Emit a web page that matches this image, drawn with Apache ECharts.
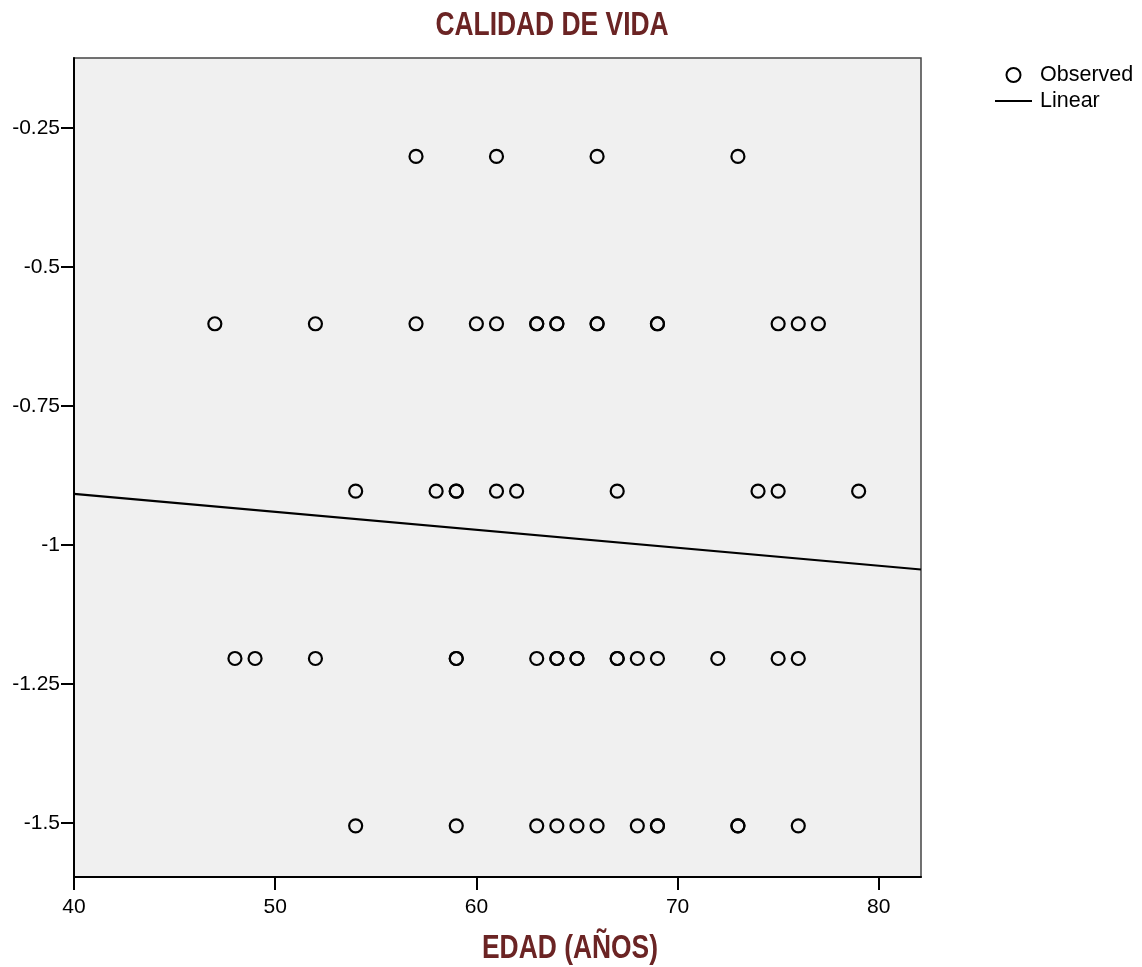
<!DOCTYPE html>
<html><head><meta charset="utf-8">
<script src="https://cdn.jsdelivr.net/npm/echarts@6/dist/echarts.min.js"></script>
<style>html,body{margin:0;padding:0;background:#fff}#c{width:1142px;height:967px}</style>
</head><body><div id="c"></div>
<script>
// Observed points: age (x) and value (y)
const obsAge = [
  57,61,66,73,
  47,52,57,60,61,63,63,64,64,66,66,69,69,75,76,77,
  54,58,59,59,61,62,67,74,75,79,
  48,49,52,59,59,63,64,64,65,65,67,67,68,69,72,75,76,
  54,59,63,64,65,66,68,69,69,73,73,76
];
const obsVal = [
  -0.301,-0.301,-0.301,-0.301,
  -0.602,-0.602,-0.602,-0.602,-0.602,-0.602,-0.602,-0.602,-0.602,-0.602,-0.602,-0.602,-0.602,-0.602,-0.602,-0.602,
  -0.903,-0.903,-0.903,-0.903,-0.903,-0.903,-0.903,-0.903,-0.903,-0.903,
  -1.204,-1.204,-1.204,-1.204,-1.204,-1.204,-1.204,-1.204,-1.204,-1.204,-1.204,-1.204,-1.204,-1.204,-1.204,-1.204,-1.204,
  -1.505,-1.505,-1.505,-1.505,-1.505,-1.505,-1.505,-1.505,-1.505,-1.505,-1.505,-1.505
];
// Linear fit endpoints
const fitAge = [40, 82.1];
const fitVal = [-0.908, -1.044];
// Axis ticks
const xTicks = [40, 50, 60, 70, 80];
const yTicks = [-1.5, -1.25, -1, -0.75, -0.5, -0.25];
const xRange = [40, 82.1];
const yRange = [-1.597, -0.124];

const titleText = 'CALIDAD DE VIDA';
const xName = 'EDAD (AÑOS)';
const sans = "'Liberation Sans',Arial,sans-serif";
const titleColor = '#6b2424';

const chart = echarts.init(document.getElementById('c'), null, {renderer: 'canvas'});
chart.setOption({
  animation: false,
  backgroundColor: '#ffffff',
  graphic: [
    {
      type: 'text', x: 552, y: 9, scaleX: 0.8, originX: 0,
      style: {text: titleText, fontFamily: sans, fontWeight: 'bold', fontSize: 33, fill: titleColor, textAlign: 'center', textVerticalAlign: 'top'}
    },
    {
      type: 'text', x: 570, y: 932, scaleX: 0.8, originX: 0,
      style: {text: xName, fontFamily: sans, fontWeight: 'bold', fontSize: 33, fill: titleColor, textAlign: 'center', textVerticalAlign: 'top'}
    }
  ],
  legend: {
    orient: 'vertical', left: 990, top: 59, itemGap: 4, itemWidth: 37, itemHeight: 14,
    textStyle: {fontFamily: sans, fontSize: 21.5, color: '#000', padding: [0, 0, 0, 3]},
    data: [
      {name: 'Observed'},
      {name: 'Linear', icon: 'path://M0,0 L37,0 L37,2 L0,2 Z'}
    ]
  },
  grid: {left: 74, right: 221, top: 58, bottom: 90, outerBoundsMode: 'none', show: true, backgroundColor: '#f0f0f0', borderColor: '#444', borderWidth: 1.5},
  xAxis: {
    type: 'value', min: xRange[0], max: xRange[1],
    axisLine: {show: true, onZero: false, lineStyle: {color: '#000', width: 2}},
    axisTick: {show: true, length: 13, lineStyle: {color: '#000', width: 2}, customValues: xTicks},
    axisLabel: {fontFamily: sans, fontSize: 21, color: '#000', margin: 20, customValues: xTicks},
    splitLine: {show: false}
  },
  yAxis: {
    type: 'value', min: yRange[0], max: yRange[1],
    axisLine: {show: true, onZero: false, lineStyle: {color: '#000', width: 2}},
    axisTick: {show: true, length: 13, lineStyle: {color: '#000', width: 2}, customValues: yTicks},
    axisLabel: {fontFamily: sans, fontSize: 21, color: '#000', margin: 14, customValues: yTicks},
    splitLine: {show: false}
  },
  series: [
    {
      name: 'Observed', type: 'scatter', symbol: 'circle', symbolSize: 13,
      itemStyle: {color: 'rgba(0,0,0,0)', borderColor: '#000', borderWidth: 2.2, opacity: 1},
      data: obsAge.map((a, i) => [a, obsVal[i]])
    },
    {
      name: 'Linear', type: 'line', symbol: 'none', showSymbol: false,
      lineStyle: {color: '#000', width: 2.2},
      itemStyle: {color: '#000'},
      data: fitAge.map((a, i) => [a, fitVal[i]])
    }
  ]
});
</script></body></html>
